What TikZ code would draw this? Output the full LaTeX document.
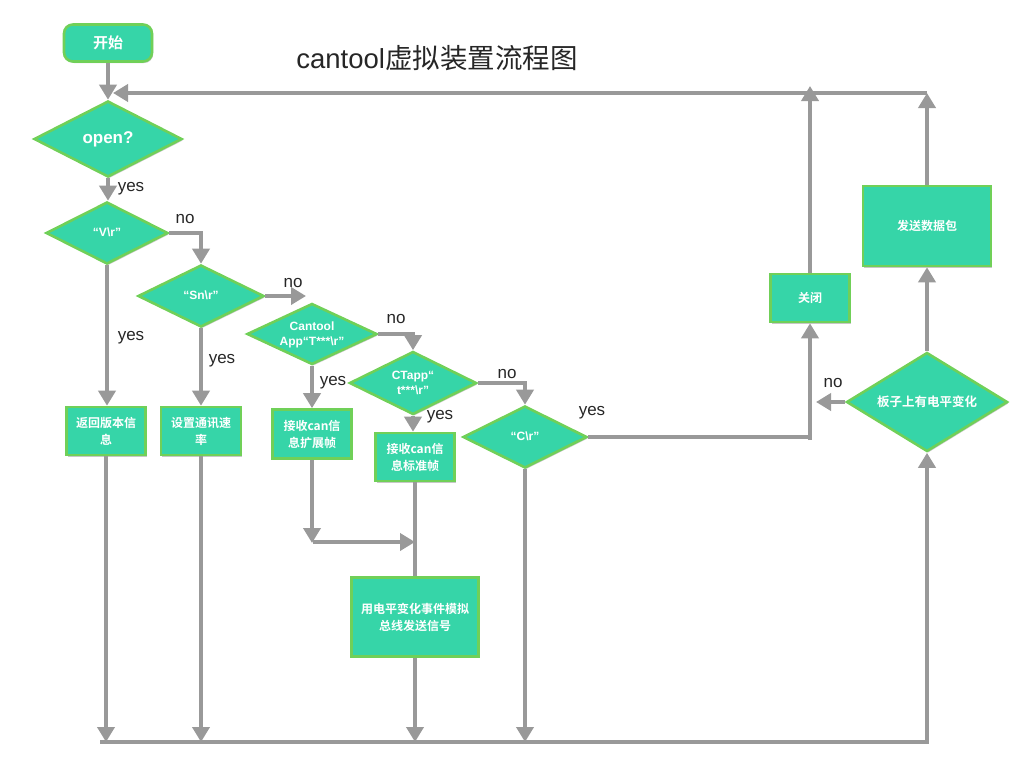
\documentclass[tikz,border=0pt]{standalone}
\usepackage{fontspec}
\setmainfont{Noto Sans CJK SC}[BoldFont={Noto Sans CJK SC Bold}]
\newfontfamily\lat{Liberation Sans}
\usetikzlibrary{shapes.geometric,arrows.meta,shadows}
\definecolor{fillc}{RGB}{54,213,168}
\definecolor{edgec}{RGB}{112,208,88}
\definecolor{linec}{RGB}{153,153,153}
\newcommand\zb[1]{\makebox[0pt]{\raisebox{-0.3em}[0pt][0pt]{\begin{tabular}{@{}c@{}}#1\end{tabular}}}}
\tikzset{
  shade/.style={drop shadow={shadow xshift=1.2pt,shadow yshift=-1.5pt,opacity=0.22,fill=black}},
  box/.style={rectangle, draw=edgec, fill=fillc, line width=2.6pt, text=white,
    font=\bfseries\fontsize{12}{17}\selectfont, align=center, inner sep=0pt, shade},
  dia/.style={diamond, draw=edgec, fill=fillc, line width=2.6pt, text=white,
    inner sep=0pt, font=\lat\bfseries\fontsize{12}{15}\selectfont, shade},
  flow/.style={draw=linec, line width=4pt},
  arr/.style={flow, -{Triangle[length=15pt,width=17pt]}},
  lab/.style={font=\lat\fontsize{17}{17}\selectfont, text=black!85, inner sep=0pt}
}
\begin{document}
\begin{tikzpicture}[x=1pt,y=-1pt]
\useasboundingbox (0,0) rectangle (1024,768);
% nodes
\node[box, rounded corners=9pt, minimum width=88pt, minimum height=37pt,
      font=\bfseries\fontsize{15}{15}\selectfont] (start) at (108,43) {开始};
\node[font=\fontsize{27.5}{28}\selectfont, text=black!85] (title) at (437,58) {{\lat cantool}虚拟装置流程图};
\node[dia, minimum width=148pt, minimum height=76pt, font=\lat\bfseries\fontsize{17}{17}\selectfont] (open) at (108,139) {\zb{open?}};
\node[dia, minimum width=122pt, minimum height=62pt] (v) at (107,233) {\zb{“V\textbackslash r”}};
\node[dia, minimum width=126pt, minimum height=62pt] (sn) at (201,296) {\zb{“Sn\textbackslash r”}};
\node[dia, minimum width=130pt, minimum height=61pt] (ct) at (312,334) {\zb{Cantool\\App“T***\textbackslash r”}};
\node[dia, minimum width=127pt, minimum height=63pt] (cta) at (413,383) {\zb{CTapp“\\t***\textbackslash r”}};
\node[dia, minimum width=124pt, minimum height=62pt] (c) at (525,437) {\zb{“C\textbackslash r”}};
\node[dia, minimum width=161pt, minimum height=99pt, font=\bfseries\fontsize{12.5}{14}\selectfont] (board) at (927,402) {\zb{板子上有电平变化}};
\node[box, minimum width=79pt, minimum height=48pt] (ret) at (106,431) {返回版本信\\息};
\node[box, minimum width=80pt, minimum height=48pt] (rate) at (201,431) {设置通讯速\\率};
\node[box, minimum width=79pt, minimum height=49pt] (ext) at (312,434) {接收can信\\息扩展帧};
\node[box, minimum width=79pt, minimum height=48pt] (std) at (415,457) {接收can信\\息标准帧};
\node[box, minimum width=127pt, minimum height=79pt] (sig) at (415,617) {用电平变化事件模拟\\总线发送信号};
\node[box, minimum width=79pt, minimum height=48pt] (close) at (810,298) {关闭};
\node[box, minimum width=128pt, minimum height=80pt] (send) at (927,226) {发送数据包};
% labels
\node[lab] (l1) at (131,189) {yes};
\node[lab] (l2) at (185,219) {no};
\node[lab] (l3) at (131,338) {yes};
\node[lab] (l4) at (222,361) {yes};
\node[lab] (l5) at (293,283) {no};
\node[lab] (l6) at (396,319) {no};
\node[lab] (l7) at (333,383) {yes};
\node[lab] (l8) at (440,417) {yes};
\node[lab] (l9) at (507,374) {no};
\node[lab] (l10) at (592,413) {yes};
\node[lab] (l11) at (833,383) {no};
% free ends
\coordinate (topR) at (927,93);
\coordinate (loopEnd) at (113,93);
\coordinate (closeEnd) at (810,86);
\coordinate (snEnd) at (306,296);
\coordinate (cJoin) at (810,437);
\coordinate (cJoinLow) at (810,440);
\coordinate (noEnd) at (816,402);
\coordinate (bl) at (100,742);
\coordinate (br) at (927,742);
\coordinate (extEnd) at (310,543);
\coordinate (mergeStart) at (313,542);
\coordinate (mergeEnd) at (415,542);
% connectors
\draw[arr] (start) -- (open);
\draw[arr] (send) -- (topR);
\draw[arr] (topR) -- (loopEnd);
\draw[arr] (close) -- (closeEnd);
\draw[arr] (open) -- (open.south |- v.north);
\draw[arr] (v.east) -| (sn.north);
\draw[arr] (v) -- (v.south |- ret.north);
\draw[arr] (sn) -- (rate);
\draw[arr] (sn.east) -- (snEnd);
\draw[arr] (ct.east) -| (cta.north);
\draw[arr] (ct) -- (ext);
\draw[arr] (cta.south) -- (cta.south |- std.north);
\draw[arr] (cta.east) -| (c.north);
\draw[flow] (c.east) -- (cJoin);
\draw[arr] (cJoinLow) -- (close);
\draw[arr] (board) -- (send);
\draw[arr] (board.west) -- (noEnd);
\draw[arr] (bl) -- (br) -- (board.south);
\draw[arr] (ret) -- (ret.south |- bl);
\draw[arr] (rate) -- (rate.south |- bl);
\draw[arr] (sig) -- (sig.south |- bl);
\draw[arr] (c) -- (c.south |- bl);
\draw[arr] (ext.south) -- (ext.south |- extEnd);
\draw[arr] (mergeStart) -- (mergeEnd);
\draw[flow] (std) -- (sig);
\end{tikzpicture}
\end{document}
